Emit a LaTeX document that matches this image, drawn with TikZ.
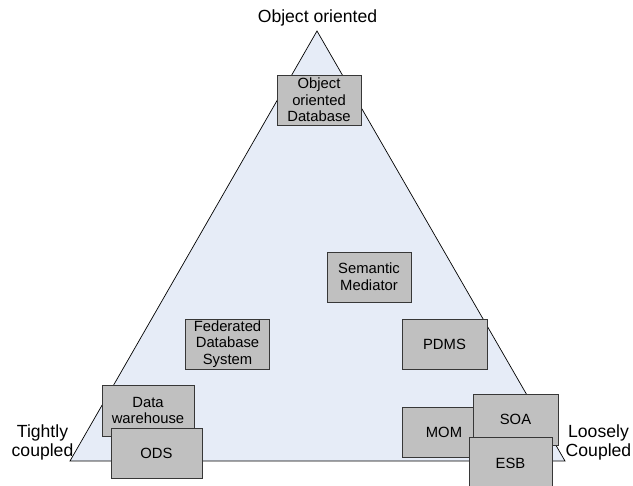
\documentclass[tikz,border=0pt]{standalone}
\usepackage{fontspec}
\setmainfont{Liberation Sans}
\definecolor{trifill}{RGB}{230,236,247}
\definecolor{boxfill}{RGB}{192,192,192}
\definecolor{boxline}{RGB}{55,55,55}
\tikzset{
  sysbox/.style={draw=boxline, fill=boxfill, line width=0.9pt, minimum width=84pt, minimum height=50pt,
    inner sep=0pt, align=center, font=\fontsize{14.8}{16.6}\selectfont},
  cornerlabel/.style={align=center, inner sep=0pt, font=\fontsize{17.6}{19.5}\selectfont},
  triline/.style={draw=black, fill=trifill, line width=0.7pt, line join=miter}
}
\begin{document}
\begin{tikzpicture}[x=1pt,y=-1pt]
\useasboundingbox (0,0) rectangle (633,486);
\coordinate (apex) at (317,31);
\coordinate (bl) at (70,461);
\coordinate (br) at (565,461);
\draw[triline] (apex) -- (bl) -- (br) -- cycle;

\node[sysbox] (oodb) at (319,100) {Object\\oriented\\Database};
\node[sysbox] (sm) at (369,277) {Semantic\\Mediator};
\node[sysbox] (fds) at (227.5,344) {Federated\\Database\\System};
\node[sysbox, minimum width=85pt] (pdms) at (444.5,344) {PDMS};
\node[sysbox, minimum width=92pt, minimum height=51pt] (dw) at (148,410.5) {Data\\warehouse};
\node[sysbox, minimum width=91pt] (ods) at (156.5,453.5) {ODS};
\node[sysbox] (mom) at (444,432) {MOM};
\node[sysbox, minimum width=85pt, minimum height=51pt] (soa) at (515.5,419.5) {SOA};
\node[sysbox, minimum width=83pt, minimum height=52pt] (esb) at (510.5,463) {ESB};

\node[cornerlabel, anchor=base] (toplabel) at (317.5,23) {Object oriented};
\node[cornerlabel, anchor=base] (leftlabel) at (42.5,457) {Tightly\\coupled};
\node[cornerlabel, anchor=base] (rightlabel) at (598.5,457) {Loosely\\Coupled};
\end{tikzpicture}
\end{document}
